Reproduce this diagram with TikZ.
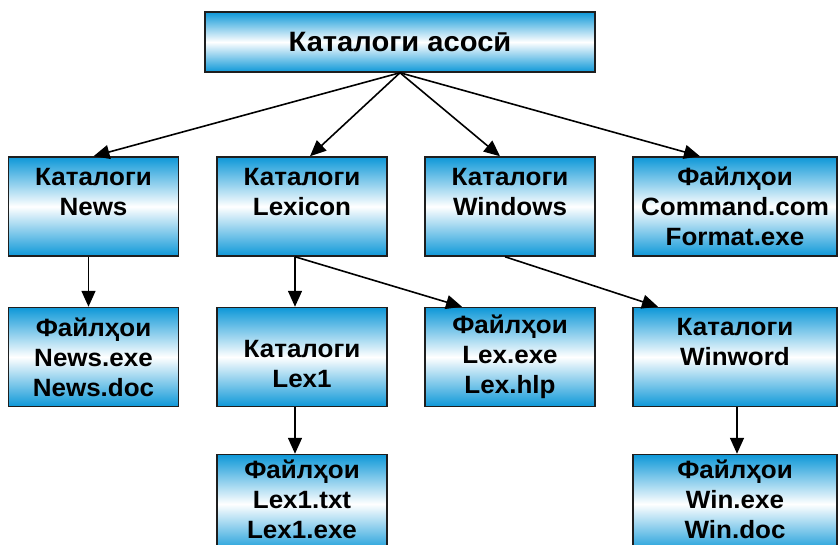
\documentclass[tikz,border=0pt]{standalone}
\usepackage{fontspec}
\newfontfamily\boxfont{Liberation Sans}[FakeStretch=1.04]
\usetikzlibrary{arrows.meta}
\definecolor{boxblue}{RGB}{14,152,216}
\definecolor{boxline}{RGB}{30,30,30}

\begin{document}
\begin{tikzpicture}[x=1pt,y=1pt,yscale=-1,xscale=1,
    box/.style={draw=boxline, line width=1.5pt, top color=boxblue, bottom color=boxblue, middle color=white,
        minimum width=170pt, minimum height=99pt, inner sep=0pt, align=center,
        font=\boxfont\bfseries\fontsize{25}{30}\selectfont},
    widebox/.style={box, minimum width=204pt},
    link/.style={line width=1.6pt, -{Triangle[length=16pt,width=14pt]}}]
    %set diagram left start at 0, and has height of 544
    \useasboundingbox (0,0) rectangle (838,544);
    \clip (0,0) rectangle (838,544);

    % Root
    \node [box, minimum width=390pt, minimum height=60pt, font=\boxfont\bfseries\fontsize{28}{30}\selectfont] (root) at (400,42) {Каталоги асосӣ};

    % Level 1
    \node [box] (news) at (93.5,206.5) {Каталоги\\News\\\mbox{}};
    \node [box] (lexicon) at (302,206.5) {Каталоги\\Lexicon\\\mbox{}};
    \node [box] (windows) at (510,206.5) {Каталоги\\Windows\\\mbox{}};
    \node [widebox] (sysfiles) at (735,206.5) {Файлҳои\\Command.com\\Format.exe};

    % Level 2
    \node [box] (newsfiles) at (93.5,357) {Файлҳои\\News.exe\\News.doc};
    \node [box] (lexone) at (302,357) {\rule{0pt}{32pt}Каталоги\\Lex1};
    \node [box] (lexfiles) at (510,357) {Файлҳои\\Lex.exe\\Lex.hlp};
    \node [widebox] (winword) at (735,357) {Каталоги\\Winword\\\mbox{}};

    % Level 3
    \node [box] (lexonefiles) at (302,504) {Файлҳои\\Lex1.txt\\Lex1.exe\\[-20pt]\mbox{}};
    \node [widebox] (winfiles) at (735,504) {Файлҳои\\Win.exe\\Win.doc\\[-20pt]\mbox{}};

    %Straight Lines
    \draw [link] (root.south) -- (news.north);
    \draw [link] (root.south) -- ([xshift=8pt]lexicon.north);
    \draw [link] (root.south) -- ([xshift=-10pt]windows.north);
    \draw [link] (root.south) -- ([xshift=-35pt]sysfiles.north);
    \draw [link] ([xshift=-5pt]news.south) -- ([xshift=-5pt]newsfiles.north);
    \draw [link] ([xshift=-7pt]lexicon.south) -- ([xshift=-7pt]lexone.north);
    \draw [link] ([xshift=-7pt]lexicon.south) -- ([xshift=-48pt]lexfiles.north);
    \draw [link] ([xshift=-5pt]windows.south) -- ([xshift=-77pt]winword.north);
    \draw [link] ([xshift=-7pt]lexone.south) -- ([xshift=-7pt]lexonefiles.north);
    \draw [link] ([xshift=2pt]winword.south) -- ([xshift=2pt]winfiles.north);

\end{tikzpicture}
\end{document}
